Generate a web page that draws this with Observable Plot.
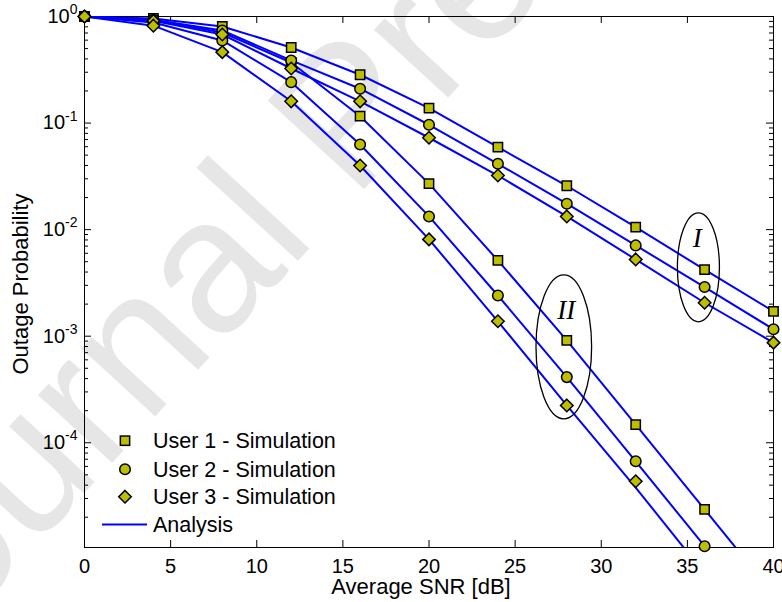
<!DOCTYPE html>
<html><head><meta charset="utf-8">
<script src="https://cdn.jsdelivr.net/npm/d3@7"></script>
<script src="https://cdn.jsdelivr.net/npm/@observablehq/plot@0.6"></script>
<style>body{margin:0;background:#fff;} svg{display:block}</style>
</head><body><div id="chart"></div>
<script>
// ---- data ----
const snr = [0, 4, 8, 12, 16, 20, 24, 28, 32, 36, 40];
// Case I (simulation)
const simI_user1 = [1, 0.958, 0.806, 0.512, 0.284, 0.138, 0.0594, 0.0258, 0.01055, 0.00421, 0.00171];
const simI_user2 = [1, 0.93, 0.739, 0.387, 0.210, 0.0964, 0.0415, 0.0175, 0.00711, 0.00289, 0.00116];
const simI_user3 = [1, 0.91, 0.678, 0.325, 0.160, 0.0728, 0.0322, 0.0133, 0.00525, 0.00206, 0.00087];
// Case II (simulation)
const simII_user1 = [1, 0.92, 0.708, 0.370, 0.116, 0.0270, 0.00514, 0.000914, 0.000148, 0.0000237, null];
const simII_user2 = [1, 0.88, 0.596, 0.242, 0.063, 0.0133, 0.00241, 0.000413, 0.000067, 0.0000107, null];
const simII_user3 = [1, 0.82, 0.463, 0.160, 0.040, 0.0081, 0.00138, 0.000224, 0.0000435, null, null];
// Analysis curves
const anaI_user1 = [1, 0.958, 0.806, 0.512, 0.284, 0.138, 0.0594, 0.0258, 0.01055, 0.00421, 0.00171];
const anaI_user2 = [1, 0.93, 0.739, 0.387, 0.210, 0.0964, 0.0415, 0.0175, 0.00711, 0.00289, 0.00116];
const anaI_user3 = [1, 0.91, 0.678, 0.325, 0.160, 0.0728, 0.0322, 0.0133, 0.00525, 0.00206, 0.00087];
const anaII_user1 = [1, 0.92, 0.708, 0.370, 0.116, 0.0270, 0.00514, 0.000914, 0.000148, 0.0000237, 0.0000038];
const anaII_user2 = [1, 0.88, 0.596, 0.242, 0.063, 0.0133, 0.00241, 0.000413, 0.000067, 0.0000107, 0.0000017];
const anaII_user3 = [1, 0.82, 0.463, 0.160, 0.040, 0.0081, 0.00138, 0.000224, 0.000038, 0.0000059, 0.0000009];

const xTicks = [0, 5, 10, 15, 20, 25, 30, 35, 40];
const yMajorTicks = [1, 1e-1, 1e-2, 1e-3, 1e-4];
const yDomain = [1.04e-5, 1];
const legendLabels = ["User 1 - Simulation", "User 2 - Simulation", "User 3 - Simulation", "Analysis"];
const groupNames = ["I", "II"];
const groupLabelX = [35.57, 27.97];
const groupLabelY = [0.00826, 0.00175];
const groupEllX = [[34.45, 36.89], [26.24, 29.47]];
const groupEllY = [[0.0142, 0.00135], [0.00372, 0.000166]];
const xLabel = "Average SNR [dB]";
const yLabel = "Outage Probability";
const watermark = "Journal Pre-proof";

// ---- layout ----
const W = 782, H = 602, mL = 84, mR = 9, mT = 16, mB = 55;
const innerW = W - mL - mR, innerH = H - mT - mB;
const FILL = "#bebe00";

const yMinorTicks = [];
for (let e = -5; e < 0; e++) for (let m = 2; m <= 9; m++) {
  const v = m * Math.pow(10, e);
  if (v > yDomain[0] && v < yDomain[1]) yMinorTicks.push(v);
}

function rows(ys, series) {
  return snr.map((x, i) => ({x, y: ys[i], series})).filter(d => d.y != null);
}
const lines = [
  ...rows(anaI_user1, "I1"), ...rows(anaI_user2, "I2"), ...rows(anaI_user3, "I3"),
  ...rows(anaII_user1, "II1"), ...rows(anaII_user2, "II2"), ...rows(anaII_user3, "II3")
];
const sq = [...rows(simI_user1, "I1"), ...rows(simII_user1, "II1")];
const ci = [...rows(simI_user2, "I2"), ...rows(simII_user2, "II2")];
const di = [...rows(simI_user3, "I3"), ...rows(simII_user3, "II3")];

const diamond = {
  draw(ctx, size) {
    const h = Math.sqrt(size / 2);
    ctx.moveTo(0, -h); ctx.lineTo(h, 0); ctx.lineTo(0, h); ctx.lineTo(-h, 0); ctx.closePath();
  }
};

const dotStyle = {x: "x", y: "y", fill: FILL, stroke: "black", strokeWidth: 1.5};

const plot = Plot.plot({
  width: W, height: H,
  marginLeft: mL, marginRight: mR, marginTop: mT, marginBottom: mB,
  style: {fontFamily: "Arial, 'Liberation Sans', sans-serif", fontSize: "20px", background: "white", color: "black", overflow: "visible"},
  x: {domain: [0, 40]},
  y: {type: "log", domain: yDomain},
  marks: [
    Plot.frame({stroke: "black", strokeWidth: 1}),
    Plot.axisX({ticks: xTicks, tickSize: 0, tickPadding: 11, fontSize: 20, label: null}),
    Plot.axisY({ticks: yMajorTicks, tickSize: 0, tickPadding: 7, fontSize: 20, label: null,
      tickFormat: d => "10^" + Math.round(Math.log10(d))}),
    Plot.tickX(xTicks, {x: d => d, insetTop: innerH - 7, stroke: "black"}),
    Plot.tickX(xTicks, {x: d => d, insetBottom: innerH - 7, stroke: "black"}),
    Plot.tickY(yMajorTicks, {y: d => d, insetRight: innerW - 7, stroke: "black"}),
    Plot.tickY(yMajorTicks, {y: d => d, insetLeft: innerW - 7, stroke: "black"}),
    Plot.tickY(yMinorTicks, {y: d => d, insetRight: innerW - 4, stroke: "black"}),
    Plot.tickY(yMinorTicks, {y: d => d, insetLeft: innerW - 4, stroke: "black"}),
    Plot.line(lines, {x: "x", y: "y", z: "series", stroke: "#0000ff", strokeWidth: 2, clip: true}),
    Plot.dot(sq, {...dotStyle, symbol: "square", r: 5.25}),
    Plot.dot(ci, {...dotStyle, symbol: "circle", r: 5.3}),
    Plot.dot(di, {...dotStyle, symbol: diamond, r: 5}),
    Plot.text(groupNames, {x: (d, i) => groupLabelX[i], y: (d, i) => groupLabelY[i], text: d => d,
      fontFamily: "'Liberation Serif', 'Times New Roman', serif", fontStyle: "italic", fontSize: 27, fill: "black"})
  ]
});

const svg = d3.select(plot);
const xs = plot.scale("x"), ys = plot.scale("y");

// watermark behind everything
svg.insert("text", ":first-child")
  .attr("transform", "translate(-104,698) rotate(-47.4)")
  .attr("text-anchor", "start")
  .attr("font-family", "Arial, 'Liberation Sans', sans-serif")
  .attr("font-size", 190)
  .attr("fill", "#e6e6e6")
  .text(watermark);
svg.insert("rect", ":first-child").attr("width", W).attr("height", H).attr("fill", "white");

// superscript y tick labels
svg.selectAll('g[aria-label="y-axis tick label"] text').each(function () {
  const t = d3.select(this);
  const s = t.text();
  const exp = s.split("^")[1];
  t.text("");
  t.append("tspan").text("10");
  t.append("tspan").attr("dy", "-0.62em").attr("font-size", "14px").text(exp);
});

// group ellipses
groupNames.forEach((g, i) => {
  const x0 = xs.apply(groupEllX[i][0]), x1 = xs.apply(groupEllX[i][1]);
  const y0 = ys.apply(groupEllY[i][0]), y1 = ys.apply(groupEllY[i][1]);
  svg.append("ellipse")
    .attr("cx", (x0 + x1) / 2).attr("cy", (y0 + y1) / 2)
    .attr("rx", (x1 - x0) / 2).attr("ry", (y1 - y0) / 2)
    .attr("fill", "none").attr("stroke", "black").attr("stroke-width", 1.3);
});

// axis titles
svg.append("text").attr("x", 421).attr("y", 594).attr("text-anchor", "middle")
  .attr("font-size", 22).text(xLabel);
svg.append("text").attr("transform", "translate(28,284) rotate(-90)").attr("text-anchor", "middle")
  .attr("font-size", 22).text(yLabel);

// legend
const lg = svg.append("g").attr("font-size", 21.5).attr("text-anchor", "start");
const rowsY = [440.7, 469.3, 496.7, 524.5];
const mx = 125;
lg.append("rect").attr("x", mx - 4.65).attr("y", rowsY[0] - 4.65).attr("width", 9.3).attr("height", 9.3)
  .attr("fill", FILL).attr("stroke", "black").attr("stroke-width", 1.5);
lg.append("circle").attr("cx", mx).attr("cy", rowsY[1]).attr("r", 5.3)
  .attr("fill", FILL).attr("stroke", "black").attr("stroke-width", 1.5);
lg.append("path").attr("d", `M${mx},${rowsY[2]-6.27}L${mx+6.27},${rowsY[2]}L${mx},${rowsY[2]+6.27}L${mx-6.27},${rowsY[2]}Z`)
  .attr("fill", FILL).attr("stroke", "black").attr("stroke-width", 1.5);
lg.append("line").attr("x1", 102).attr("x2", 147).attr("y1", rowsY[3]).attr("y2", rowsY[3])
  .attr("stroke", "#0000ff").attr("stroke-width", 2);
legendLabels.forEach((l, i) => {
  lg.append("text").attr("x", 153).attr("y", rowsY[i]).attr("dy", "0.36em").text(l);
});

document.getElementById("chart").appendChild(plot);
</script>
</body></html>
